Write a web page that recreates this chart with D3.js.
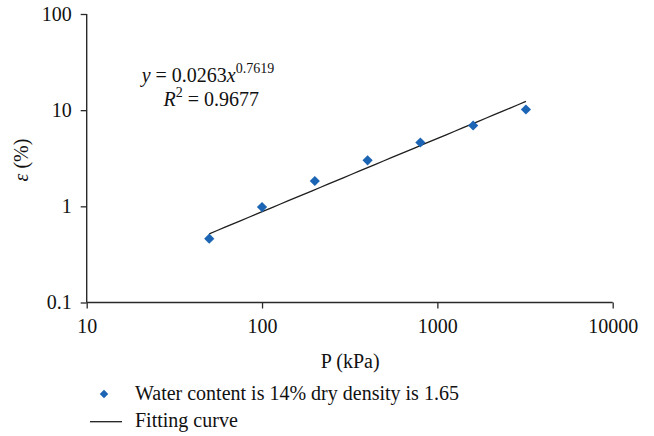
<!DOCTYPE html>
<html>
<head>
<meta charset="utf-8">
<script src="https://cdn.jsdelivr.net/npm/d3@7/dist/d3.min.js"></script>
<style>
  html, body { margin: 0; padding: 0; background: #fff; }
  svg { display: block; font-family: "Liberation Serif", "Times New Roman", serif; }
</style>
</head>
<body>
<svg id="chart" width="654" height="436"></svg>
<script>
// Pressure (kPa) and measured strain (%)
const pressure = [50, 100, 200, 400, 800, 1600, 3200];
const strain = [0.461, 0.983, 1.835, 3.01, 4.61, 6.93, 10.16];

// Power-law fit: y = a * x^b
const fitA = 0.0263;
const fitB = 0.7619;
const fitR2 = 0.9677;
const fitRange = [50, 3200];

const xTicks = [10, 100, 1000, 10000];
const yTicks = [0.1, 1, 10, 100];

const seriesName = "Water content is 14% dry density is 1.65";
const fitName = "Fitting curve";

const svg = d3.select("#chart");
const plotLeft = 86.7, plotRight = 612.7, plotTop = 14, plotBottom = 302.5;

const x = d3.scaleLog().domain([10, 10000]).range([plotLeft, plotRight]);
const y = d3.scaleLog().domain([0.1, 100]).range([plotBottom, plotTop]);

const fontSize = 20;
const blue = "#1c64b4";
const axisColor = "#2a2a2a";

// Axes
const xAxis = d3.axisBottom(x).tickValues(xTicks).tickFormat(d3.format("d")).tickSize(6).tickPadding(10);
const yAxis = d3.axisLeft(y).tickValues(yTicks).tickFormat(d => String(d)).tickSize(6).tickPadding(9);

const gx = svg.append("g").attr("transform", `translate(0,${plotBottom})`).call(xAxis);
const gy = svg.append("g").attr("transform", `translate(${plotLeft},0)`).call(yAxis);

[gx, gy].forEach(g => {
  g.select(".domain").attr("stroke", axisColor).attr("stroke-width", 1.4);
  g.selectAll(".tick line").attr("stroke", axisColor).attr("stroke-width", 1.3);
  g.selectAll(".tick text")
    .attr("fill", "#111")
    .style("font-family", "'Liberation Serif', serif")
    .style("font-size", fontSize + "px");
});
// plain axis lines without end caps
gx.select(".domain").attr("d", `M${plotLeft},0H${plotRight}`);
gy.select(".domain").attr("d", `M0,${plotTop}V${plotBottom}`);

// Axis titles
svg.append("text")
  .attr("x", (plotLeft + plotRight) / 2 + 0.5)
  .attr("y", 368)
  .attr("text-anchor", "middle")
  .attr("fill", "#111")
  .style("font-size", fontSize + "px")
  .text("P (kPa)");

const yLabel = svg.append("text")
  .attr("transform", "translate(28,160) rotate(-90)")
  .attr("text-anchor", "middle")
  .attr("fill", "#111")
  .style("font-size", fontSize + "px");
yLabel.append("tspan").style("font-style", "italic").text("ε");
yLabel.append("tspan").text(" (%)");

// Fitted curve
const fitPts = d3.range(0, 41).map(i => {
  const lx = Math.log10(fitRange[0]) + i / 40 * (Math.log10(fitRange[1]) - Math.log10(fitRange[0]));
  const px = Math.pow(10, lx);
  return [px, fitA * Math.pow(px, fitB)];
});
svg.append("path")
  .datum(fitPts)
  .attr("fill", "none")
  .attr("stroke", "#1e1e1e")
  .attr("stroke-width", 1.3)
  .attr("d", d3.line().x(d => x(d[0])).y(d => y(d[1])));

// Data points (diamonds)
svg.append("g").selectAll("path")
  .data(pressure.map((p, i) => [p, strain[i]]))
  .join("path")
  .attr("transform", d => `translate(${x(d[0])},${y(d[1])}) rotate(45)`)
  .attr("d", d3.symbol().type(d3.symbolSquare).size(52)())
  .attr("fill", blue);

// Equation annotation
const eq = svg.append("text")
  .attr("x", 141.7)
  .attr("y", 81.7)
  .attr("fill", "#111")
  .style("font-size", fontSize + "px");
eq.append("tspan").style("font-style", "italic").text("y");
eq.append("tspan").text(` = ${fitA}`);
eq.append("tspan").style("font-style", "italic").text("x");
eq.append("tspan").attr("dy", -9).style("font-size", "14px").text(String(fitB));

const r2 = svg.append("text")
  .attr("x", 163.5)
  .attr("y", 106)
  .attr("fill", "#111")
  .style("font-size", fontSize + "px");
r2.append("tspan").style("font-style", "italic").text("R");
r2.append("tspan").attr("dy", -9).style("font-size", "14px").text("2");
r2.append("tspan").attr("dy", 9).text(` = ${fitR2}`);

// Legend
const legend = svg.append("g");
legend.append("path")
  .attr("transform", "translate(104,394) rotate(45)")
  .attr("d", d3.symbol().type(d3.symbolSquare).size(36)())
  .attr("fill", blue);
legend.append("text")
  .attr("x", 135).attr("y", 400)
  .attr("fill", "#111")
  .style("font-size", fontSize + "px")
  .text(seriesName);
legend.append("line")
  .attr("x1", 90).attr("x2", 122)
  .attr("y1", 421.7).attr("y2", 421.7)
  .attr("stroke", "#1e1e1e").attr("stroke-width", 1.3);
legend.append("text")
  .attr("x", 135).attr("y", 427)
  .attr("fill", "#111")
  .style("font-size", fontSize + "px")
  .text(fitName);
</script>
</body>
</html>
